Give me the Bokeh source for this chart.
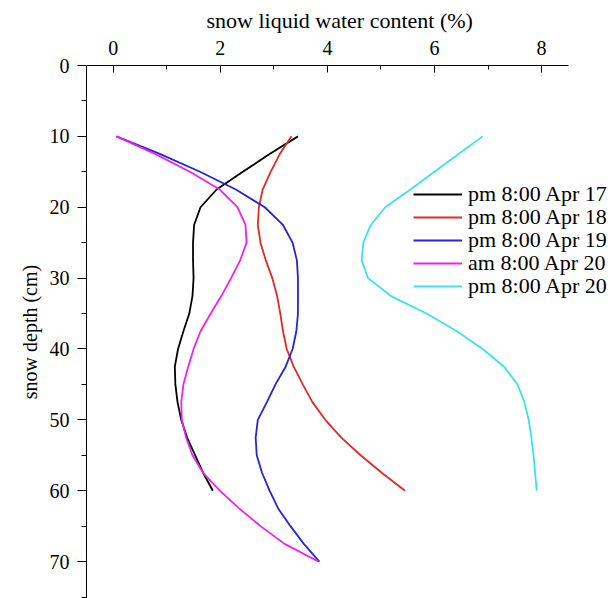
from bokeh.plotting import figure
from bokeh.models import Range1d, Legend, LegendItem, SingleIntervalTicker
from bokeh.embed import file_html
from bokeh.resources import INLINE

# depth (cm)
depth_60 = [10, 12.5, 15, 17.5, 20, 22.5, 25, 27.5, 30, 32.5, 35, 37.5, 40,
            42.5, 45, 47.5, 50, 52.5, 55, 57.5, 60]
depth_70 = depth_60 + [62.5, 65, 67.5, 70]

# snow liquid water content (%)
apr17_pm = [3.45, 2.92, 2.42, 1.93, 1.63, 1.51, 1.49, 1.49, 1.50, 1.48, 1.42, 1.31, 1.21,
            1.15, 1.16, 1.20, 1.27, 1.38, 1.53, 1.68, 1.86]
apr18_pm = [3.33, 3.11, 2.94, 2.79, 2.72, 2.70, 2.75, 2.85, 2.97, 3.06, 3.12, 3.17, 3.24,
            3.37, 3.54, 3.72, 3.96, 4.26, 4.62, 5.02, 5.45]
apr19_pm = [0.06, 0.88, 1.62, 2.29, 2.83, 3.17, 3.35, 3.43, 3.45, 3.45, 3.45, 3.42, 3.35,
            3.22, 3.03, 2.87, 2.70, 2.66, 2.68, 2.78, 2.92, 3.08, 3.31, 3.56, 3.85]
apr20_am = [0.06, 0.79, 1.43, 1.99, 2.32, 2.47, 2.49, 2.37, 2.20, 2.02, 1.82, 1.63, 1.50,
            1.40, 1.31, 1.27, 1.28, 1.36, 1.48, 1.68, 1.99, 2.35, 2.75, 3.20, 3.83]
apr20_pm = [6.90, 6.45, 6.00, 5.55, 5.08, 4.81, 4.67, 4.64, 4.76, 5.18, 5.85, 6.42, 6.90,
            7.30, 7.55, 7.68, 7.76, 7.81, 7.85, 7.88, 7.91]

labels = ["pm 8:00 Apr 17", "pm 8:00 Apr 18", "pm 8:00 Apr 19", "am 8:00 Apr 20", "pm 8:00 Apr 20"]
colors = ["#000000", "#e02a2a", "#2424d8", "#ee22ee", "#3de3e3"]
series = [(apr17_pm, depth_60), (apr18_pm, depth_60), (apr19_pm, depth_70),
          (apr20_am, depth_70), (apr20_pm, depth_60)]

FONT = "Liberation Serif"

p = figure(width=616, height=598, output_backend="svg", toolbar_location=None,
           x_axis_location="above", x_range=Range1d(-0.5, 9.4), y_range=Range1d(75.21, 0),
           min_border_left=86, min_border_top=64, min_border_right=0, min_border_bottom=0,
           title="snow liquid water content (%)")
p.outline_line_color = None
p.xgrid.visible = False
p.ygrid.visible = False
p.background_fill_color = "white"
p.border_fill_color = "white"

p.title.align = "left"
p.title.offset = 120
p.title.standoff = 10
p.title.text_font = FONT
p.title.text_font_size = "22px"
p.title.text_font_style = "normal"
p.title.text_color = "black"

xa = p.xaxis[0]
xa.ticker = SingleIntervalTicker(interval=2, num_minor_ticks=2)
xa.bounds = (-0.5, 8.5)
xa.major_tick_in = 7
xa.major_tick_out = 0
xa.minor_tick_in = 4
xa.minor_tick_out = 0
xa.major_label_standoff = 11

ya = p.yaxis[0]
ya.ticker = SingleIntervalTicker(interval=10, num_minor_ticks=2)
ya.axis_label = "snow depth (cm)"
ya.major_tick_in = 0
ya.major_tick_out = 9
ya.minor_tick_in = 0
ya.minor_tick_out = 5
ya.major_label_standoff = 8
ya.axis_label_standoff = 6

for ax in (xa, ya):
    ax.axis_line_color = "black"
    ax.major_tick_line_color = "black"
    ax.minor_tick_line_color = "black"
    ax.major_label_text_font = FONT
    ax.major_label_text_font_size = "20px"
    ax.major_label_text_color = "black"
    ax.axis_label_text_font = FONT
    ax.axis_label_text_font_style = "normal"
    ax.axis_label_text_color = "black"
ya.axis_label_text_font_size = "20px"

# one single-entry legend per series, so the rows sit 23px apart as in the reference
legend_rows = [391, 368, 345, 322, 299]
for (xs, ds), c, lab, ly in zip(series, colors, labels, legend_rows):
    r = p.line(xs, ds, line_color=c, line_width=1.8)
    lg = Legend(items=[LegendItem(label=lab, renderers=[r])], location=(327, ly),
                glyph_width=49, glyph_height=20, label_height=20, label_standoff=6,
                spacing=0, padding=0, margin=0,
                label_text_font=FONT, label_text_font_size="22px", label_text_color="black",
                border_line_color=None, background_fill_alpha=0)
    p.add_layout(lg, "center")

open("out.html", "w").write(file_html(p, INLINE))
